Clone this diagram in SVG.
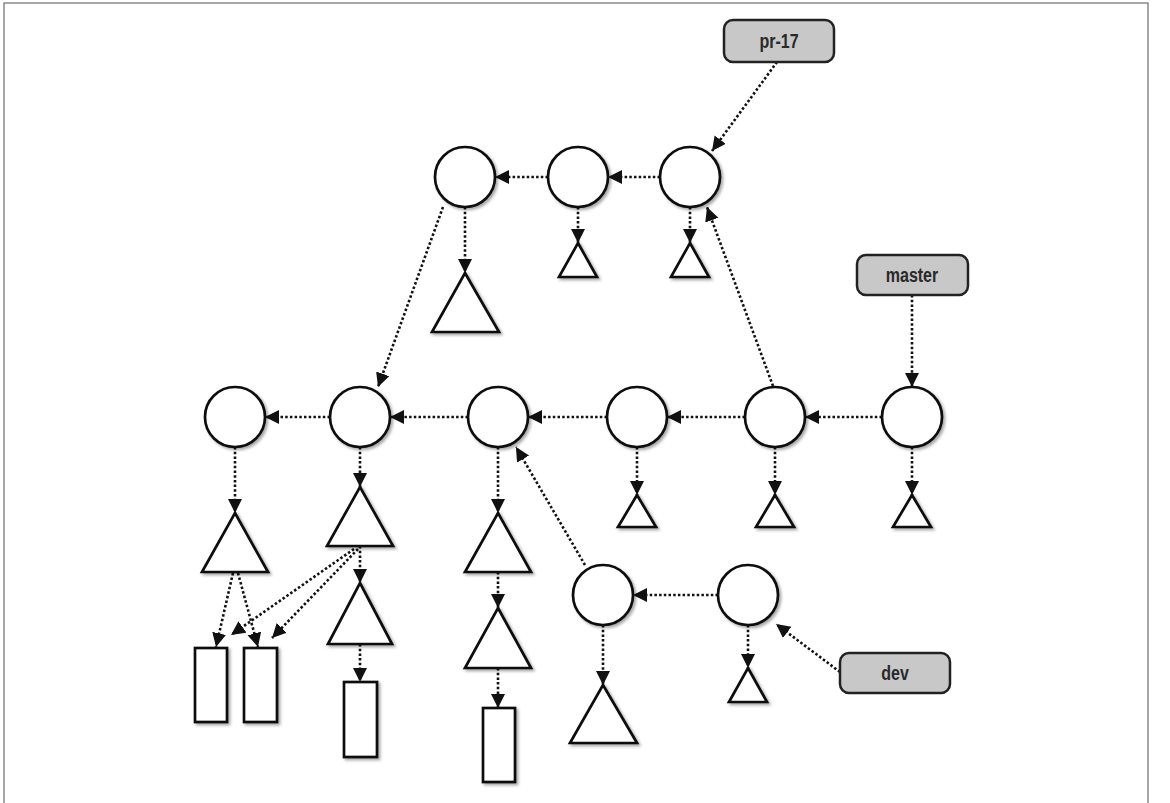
<svg xmlns="http://www.w3.org/2000/svg" width="1170" height="803" viewBox="0 0 1170 803">
<style>
.shape{fill:#fff;stroke:#111;stroke-width:2.7;filter:url(#sh)}
.label rect{fill:#c8c8c8;stroke:#222;stroke-width:2.5}
.label text{font-family:"Liberation Sans",Arial,sans-serif;font-weight:bold;font-size:20px;fill:#2a2a2a;text-anchor:middle;dominant-baseline:central}
.conn line{stroke:#111;stroke-width:2.6;stroke-dasharray:2.5 2.2;marker-end:url(#ah)}
</style>
<defs>
<filter id="sh" x="-20%" y="-20%" width="150%" height="150%"><feDropShadow dx="2" dy="2" stdDeviation="1.5" flood-color="#000" flood-opacity="0.35"/></filter>
<marker id="ah" markerUnits="userSpaceOnUse" markerWidth="15" markerHeight="15" refX="14" refY="7" orient="auto"><path d="M0,0 L14,7 L0,14 Z" fill="#111"/></marker>
</defs>
<rect width="1170" height="803" fill="#fff"/>
<rect x="4" y="3" width="1144" height="830" fill="none" stroke="#8a8a8a" stroke-width="1.5"/>

<g id="connectors" class="conn">
<line x1="548" y1="177" x2="495" y2="177"/>
<line x1="660" y1="177" x2="608" y2="177"/>
<line x1="465" y1="207" x2="465" y2="273"/>
<line x1="578" y1="207" x2="578" y2="243"/>
<line x1="690" y1="207" x2="690" y2="243"/>
<line x1="777" y1="62" x2="712" y2="151"/>
<line x1="773" y1="386" x2="707" y2="207"/>
<line x1="443" y1="207" x2="378" y2="387"/>
<line x1="330" y1="417" x2="265" y2="417"/>
<line x1="468" y1="417" x2="390" y2="417"/>
<line x1="607" y1="417" x2="528" y2="417"/>
<line x1="745" y1="417" x2="667" y2="417"/>
<line x1="882" y1="417" x2="805" y2="417"/>
<line x1="912" y1="295" x2="912" y2="387"/>
<line x1="637" y1="447" x2="637" y2="495"/>
<line x1="775" y1="447" x2="775" y2="495"/>
<line x1="912" y1="447" x2="912" y2="495"/>
<line x1="235" y1="447" x2="235" y2="513"/>
<line x1="233" y1="573" x2="216" y2="647"/>
<line x1="238" y1="573" x2="258" y2="647"/>
<line x1="360" y1="447" x2="360" y2="487"/>
<line x1="354" y1="549" x2="231" y2="635"/>
<line x1="358" y1="549" x2="272" y2="638"/>
<line x1="360" y1="546" x2="360" y2="583"/>
<line x1="360" y1="644" x2="360" y2="682"/>
<line x1="498" y1="447" x2="498" y2="513"/>
<line x1="498" y1="572" x2="498" y2="608"/>
<line x1="498" y1="668" x2="498" y2="708"/>
<line x1="718" y1="595" x2="633" y2="595"/>
<line x1="585" y1="565" x2="516" y2="447"/>
<line x1="603" y1="625" x2="603" y2="685"/>
<line x1="748" y1="625" x2="748" y2="668"/>
<line x1="840" y1="672" x2="776" y2="624"/>
</g>

<g id="commit-t1"><circle class="shape" cx="465" cy="177" r="30"/></g>
<g id="commit-t2"><circle class="shape" cx="578" cy="177" r="30"/></g>
<g id="commit-t3"><circle class="shape" cx="690" cy="177" r="30"/></g>
<g id="tree-t1"><polygon class="shape" points="465,273 499,332 432,332"/></g>
<g id="tree-t2"><polygon class="shape" points="578,243 597,277 559,277"/></g>
<g id="tree-t3"><polygon class="shape" points="690,243 709,277 671,277"/></g>

<g id="commit-m1"><circle class="shape" cx="235" cy="417" r="30"/></g>
<g id="commit-m2"><circle class="shape" cx="360" cy="417" r="30"/></g>
<g id="commit-m3"><circle class="shape" cx="498" cy="417" r="30"/></g>
<g id="commit-m4"><circle class="shape" cx="637" cy="417" r="30"/></g>
<g id="commit-m5"><circle class="shape" cx="775" cy="417" r="30"/></g>
<g id="commit-m6"><circle class="shape" cx="912" cy="417" r="30"/></g>

<g id="tree-m4"><polygon class="shape" points="637,495 656,527 618,527"/></g>
<g id="tree-m5"><polygon class="shape" points="775,495 794,527 756,527"/></g>
<g id="tree-m6"><polygon class="shape" points="912,495 931,527 893,527"/></g>
<g id="tree-m1"><polygon class="shape" points="235,513 268,572 202,572"/></g>
<g id="tree-m2a"><polygon class="shape" points="360,487 393,546 327,546"/></g>
<g id="tree-m2b"><polygon class="shape" points="360,583 392,644 328,644"/></g>
<g id="tree-m3a"><polygon class="shape" points="498,513 531,572 465,572"/></g>
<g id="tree-m3b"><polygon class="shape" points="498,608 531,668 465,668"/></g>

<g id="blob-1"><rect class="shape" x="195" y="648" width="32" height="74"/></g>
<g id="blob-2"><rect class="shape" x="244" y="648" width="33" height="74"/></g>
<g id="blob-3"><rect class="shape" x="344" y="682" width="33" height="75"/></g>
<g id="blob-4"><rect class="shape" x="483" y="708" width="32" height="74"/></g>

<g id="commit-b1"><circle class="shape" cx="603" cy="595" r="30"/></g>
<g id="commit-b2"><circle class="shape" cx="748" cy="595" r="30"/></g>
<g id="tree-b1"><polygon class="shape" points="603,685 637,743 570,743"/></g>
<g id="tree-b2"><polygon class="shape" points="748,668 767,702 729,702"/></g>

<g id="ref-pr17" class="label"><rect x="724" y="20" width="110" height="42" rx="9"/><text transform="translate(779,41) scale(0.8,1)">pr-17</text></g>
<g id="ref-master" class="label"><rect x="857" y="255" width="111" height="40" rx="9"/><text transform="translate(912,275) scale(0.8,1)">master</text></g>
<g id="ref-dev" class="label"><rect x="840" y="653" width="110" height="40" rx="9"/><text transform="translate(895,673) scale(0.8,1)">dev</text></g>
</svg>
